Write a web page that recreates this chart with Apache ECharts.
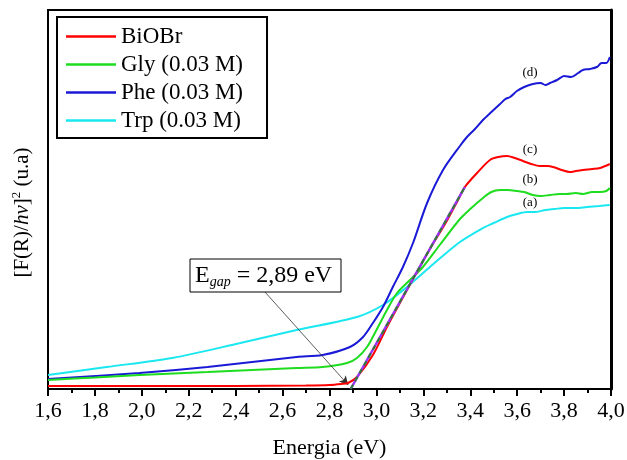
<!DOCTYPE html>
<html>
<head>
<meta charset="utf-8">
<script src="https://cdn.jsdelivr.net/npm/echarts@6/dist/echarts.min.js"></script>
<style>html,body{margin:0;padding:0;background:#fff}#c{width:627px;height:460px}</style>
</head>
<body>
<div id="c"></div>
<script>
// Energy (eV) and intensity values (arbitrary units)
const seriesNames = ['BiOBr', 'Gly (0.03 M)', 'Phe (0.03 M)', 'Trp (0.03 M)'];
const xTicks = [1.6, 1.8, 2.0, 2.2, 2.4, 2.6, 2.8, 3.0, 3.2, 3.4, 3.6, 3.8, 4.0];

const biobrE = [1.6, 2.0, 2.4, 2.7, 2.8, 2.85, 2.879, 2.917, 2.985, 3.045, 3.10, 3.156, 3.228, 3.30, 3.348, 3.377, 3.429, 3.484, 3.52, 3.557, 3.59, 3.625, 3.66, 3.697, 3.73, 3.753, 3.79, 3.825, 3.85, 3.88, 3.92, 3.953, 3.995];
const biobrV = [3, 3, 3, 3.5, 4, 5, 6, 12, 34, 62, 86, 110, 140, 168, 189, 202, 216, 229, 232, 233, 231, 228, 225, 223, 223, 222, 219, 217, 218, 219, 220, 221, 225];

const glyE = [1.6, 1.8, 1.99, 2.28, 2.66, 2.77, 2.875, 2.917, 2.96, 3.0, 3.045, 3.088, 3.143, 3.198, 3.27, 3.356, 3.40, 3.454, 3.49, 3.527, 3.56, 3.6, 3.63, 3.667, 3.70, 3.74, 3.78, 3.81, 3.85, 3.88, 3.92, 3.953, 3.98, 3.995];
const glyV = [9, 11.5, 14, 17, 21, 22, 26, 31, 42, 59, 79, 96, 109, 122, 144, 170, 180, 191, 197, 199, 199, 198, 197, 194, 193, 194, 195, 195, 196, 195, 197, 197, 198, 201];

const pheE = [1.6, 1.99, 2.28, 2.66, 2.77, 2.887, 2.943, 2.985, 3.028, 3.07, 3.113, 3.156, 3.216, 3.284, 3.356, 3.386, 3.42, 3.454, 3.49, 3.527, 3.55, 3.57, 3.599, 3.63, 3.667, 3.70, 3.72, 3.74, 3.77, 3.80, 3.83, 3.86, 3.88, 3.91, 3.94, 3.96, 3.98, 3.995];
const pheV = [10, 16, 22, 32, 34, 42, 52, 66, 82, 102, 122, 146, 186, 219, 243, 252, 260, 269, 277, 285, 290, 292, 298, 302, 305, 306, 304, 306, 309, 313, 312, 316, 319, 320, 322, 326, 326, 332];

const trpE = [1.6, 1.85, 2.13, 2.42, 2.66, 2.917, 3.028, 3.13, 3.228, 3.356, 3.454, 3.50, 3.557, 3.6, 3.642, 3.68, 3.72, 3.76, 3.80, 3.85, 3.897, 3.95, 3.995];
const trpV = [14, 22, 31, 46, 59, 72, 84, 102, 122, 147, 161, 166, 172, 175, 177, 177, 179, 180, 181, 181, 182, 183, 184];

// Tangent (band-gap extrapolation) line
const tangentE = [2.89, 3.377];
const tangentV = [0, 202];

// Arrow from annotation box to the band-gap point
const arrowStart = [2.525, 97];
const arrowEnd = [2.88, 4];

const curveLabels = ['(a)', '(b)', '(c)', '(d)'];

const colors = ['#ff0000', '#1edc1e', '#1a1ad6', '#1ae8f0'];
const zip = (xs, ys) => xs.map((x, i) => [x, ys[i]]);
const serif = 'Liberation Serif, Times New Roman, serif';

const chart = echarts.init(document.getElementById('c'), null, {renderer: 'canvas'});

const lineSeries = (name, xs, ys, color, z) => ({
  name, type: 'line', data: zip(xs, ys), showSymbol: false, symbol: 'none',
  smooth: 0.3, z,
  lineStyle: {color, width: 2}, itemStyle: {color}
});

const option = {
  animation: false,
  backgroundColor: '#ffffff',
  grid: {left: 48, right: 16, top: 10, bottom: 71, containLabel: false, outerBoundsMode: 'none',
    show: true, borderColor: '#000', borderWidth: 2, backgroundColor: 'transparent'},
  legend: {
    data: seriesNames, orient: 'vertical', left: 57, top: 17,
    padding: [8, 24, 6, 9], itemGap: 5, itemWidth: 50, itemHeight: 2.5, icon: 'rect',
    borderColor: '#000', borderWidth: 2, backgroundColor: '#fff',
    textStyle: {fontFamily: serif, fontSize: 23, color: '#000'}
  },
  xAxis: [{
    type: 'value', min: 1.6, max: 4.0, interval: 0.2,
    name: 'Energia (eV)', nameLocation: 'middle', nameGap: 48,
    nameTextStyle: {fontFamily: serif, fontSize: 22, color: '#000'},
    axisLine: {lineStyle: {color: '#000', width: 2}},
    axisTick: {show: true, inside: false, length: 7, lineStyle: {color: '#000', width: 2}},
    minorTick: {show: true, splitNumber: 2, length: 4, lineStyle: {color: '#000', width: 2}},
    splitLine: {show: false},
    axisLabel: {margin: 11, fontFamily: serif, fontSize: 22, color: '#000',
      formatter: v => v.toFixed(1).replace('.', ',')}
  }],
  yAxis: [{
    type: 'value', min: 0, max: 379,
    name: '[F(R)/{i|hν}]{sup|2} (u.a)', nameLocation: 'middle', nameRotate: 90, nameGap: 14,
    nameTextStyle: {
      fontFamily: serif, fontSize: 21, color: '#000', padding: [0, 26, 0, 0],
      rich: {
        i: {fontFamily: serif, fontSize: 21, fontStyle: 'italic', color: '#000', lineHeight: 24},
        sup: {fontFamily: serif, fontSize: 13, color: '#000', lineHeight: 13, verticalAlign: 'top'}
      }
    },
    axisLine: {show: true, lineStyle: {color: '#000', width: 2}},
    axisTick: {show: false}, axisLabel: {show: false}, splitLine: {show: false}
  }, {
    type: 'value', min: 0, max: 379, position: 'right',
    axisLine: {show: true, lineStyle: {color: '#000', width: 3}},
    axisTick: {show: false}, axisLabel: {show: false}, splitLine: {show: false}
  }],
  series: [
    lineSeries(seriesNames[0], biobrE, biobrV, colors[0], 5),
    lineSeries(seriesNames[1], glyE, glyV, colors[1], 4),
    lineSeries(seriesNames[2], pheE, pheV, colors[2], 3),
    lineSeries(seriesNames[3], trpE, trpV, colors[3], 2),
    {name: 'tangent-base', type: 'line', data: zip(tangentE, tangentV), showSymbol: false, symbol: 'none', z: 6,
      lineStyle: {color: '#9b30ff', width: 2.5}},
    {name: 'tangent', type: 'line', data: zip(tangentE, tangentV), showSymbol: false, symbol: 'none', z: 7,
      lineStyle: {color: '#2e7d32', width: 2, type: [5, 4]},
      markLine: {silent: true, symbol: ['none', 'arrow'], symbolSize: [7, 9],
        lineStyle: {color: '#333', width: 0.8, type: 'solid'}, label: {show: false},
        data: [[{coord: arrowStart}, {coord: arrowEnd}]]}}
  ],
  graphic: [
    {type: 'rect', shape: {x: 190, y: 259, width: 151, height: 33}, style: {fill: '#fff', stroke: '#000', lineWidth: 1}, z: 100},
    {type: 'text', x: 195, y: 276, z: 101, style: {
      text: '{b|E}{s|gap}{b| = 2,89 eV}', verticalAlign: 'middle', align: 'left',
      rich: {
        b: {fontFamily: serif, fontSize: 24, color: '#000', lineHeight: 26, verticalAlign: 'middle'},
        s: {fontFamily: serif, fontSize: 14, fontStyle: 'italic', color: '#000', lineHeight: 13, verticalAlign: 'bottom'}
      }}},
    {type: 'text', x: 530, y: 203, z: 101, style: {text: curveLabels[0], fontFamily: serif, fontSize: 13, fill: '#000', align: 'center', verticalAlign: 'middle'}},
    {type: 'text', x: 530, y: 180, z: 101, style: {text: curveLabels[1], fontFamily: serif, fontSize: 13, fill: '#000', align: 'center', verticalAlign: 'middle'}},
    {type: 'text', x: 530, y: 150, z: 101, style: {text: curveLabels[2], fontFamily: serif, fontSize: 13, fill: '#000', align: 'center', verticalAlign: 'middle'}},
    {type: 'text', x: 530, y: 73, z: 101, style: {text: curveLabels[3], fontFamily: serif, fontSize: 13, fill: '#000', align: 'center', verticalAlign: 'middle'}}
  ]
};
chart.setOption(option);
</script>
</body>
</html>
